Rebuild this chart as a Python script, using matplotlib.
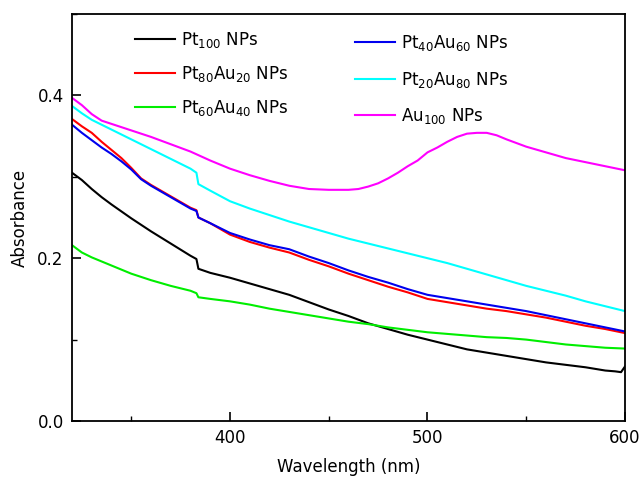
import matplotlib
matplotlib.use("Agg")
import matplotlib.pyplot as plt
from matplotlib.ticker import MultipleLocator

plt.rcParams['font.family'] = ['DejaVu Sans']
plt.rcParams['mathtext.fontset'] = 'dejavusans'
plt.rcParams['mathtext.default'] = 'regular'

# Wavelength grids (nm) and absorbance values for each sample
wl_pt100 = [320, 325, 330, 335, 340, 350, 360, 370, 380, 383, 384, 390, 400, 410, 420, 430, 440,
            450, 460, 470, 480, 490, 500, 510, 520, 530, 540, 550, 560, 570, 580, 590, 595, 598, 600]
abs_pt100 = [0.305, 0.296, 0.285, 0.275, 0.266, 0.249, 0.233, 0.218, 0.203, 0.199, 0.187, 0.182, 0.176,
             0.169, 0.162, 0.155, 0.146, 0.137, 0.129, 0.120, 0.113, 0.106, 0.100, 0.094, 0.088, 0.084,
             0.080, 0.076, 0.072, 0.069, 0.066, 0.062, 0.061, 0.060, 0.067]

wl_alloy = [320, 325, 330, 335, 340, 345, 350, 355, 360, 370, 380, 383, 384, 390, 400, 410, 420, 430,
            440, 450, 460, 470, 480, 490, 500, 510, 520, 530, 540, 550, 560, 570, 580, 590, 600]
abs_pt80au20 = [0.371, 0.362, 0.354, 0.343, 0.333, 0.323, 0.311, 0.298, 0.290, 0.276, 0.262, 0.259,
                0.250, 0.243, 0.229, 0.220, 0.213, 0.207, 0.198, 0.190, 0.181, 0.173, 0.165, 0.158,
                0.150, 0.146, 0.142, 0.138, 0.135, 0.131, 0.127, 0.122, 0.117, 0.113, 0.108]
abs_pt40au60 = [0.364, 0.354, 0.345, 0.336, 0.328, 0.319, 0.309, 0.297, 0.289, 0.275, 0.261, 0.258,
                0.250, 0.243, 0.231, 0.223, 0.216, 0.211, 0.202, 0.194, 0.185, 0.177, 0.170, 0.162,
                0.155, 0.151, 0.147, 0.143, 0.139, 0.135, 0.130, 0.125, 0.120, 0.115, 0.110]

wl_pt60au40 = [320, 325, 330, 340, 350, 360, 370, 380, 383, 384, 390, 400, 410, 420, 430, 440, 450,
               460, 470, 475, 480, 490, 500, 510, 520, 530, 540, 550, 560, 570, 580, 590, 600]
abs_pt60au40 = [0.216, 0.207, 0.201, 0.191, 0.181, 0.173, 0.166, 0.160, 0.157, 0.152, 0.150, 0.147,
                0.143, 0.138, 0.134, 0.130, 0.126, 0.122, 0.119, 0.117, 0.115, 0.112, 0.109, 0.107,
                0.105, 0.103, 0.102, 0.100, 0.097, 0.094, 0.092, 0.090, 0.089]

wl_pt20au80 = [320, 325, 330, 340, 350, 360, 370, 380, 383, 384, 390, 400, 410, 420, 430, 440, 450,
               460, 470, 480, 490, 500, 510, 520, 530, 540, 550, 560, 570, 580, 590, 600]
abs_pt20au80 = [0.387, 0.378, 0.370, 0.358, 0.346, 0.334, 0.322, 0.310, 0.305, 0.291, 0.283, 0.270,
                0.261, 0.253, 0.245, 0.238, 0.231, 0.224, 0.218, 0.212, 0.206, 0.200, 0.194, 0.187,
                0.180, 0.173, 0.166, 0.160, 0.154, 0.147, 0.141, 0.135]

wl_au100 = [320, 325, 330, 335, 340, 350, 360, 370, 380, 390, 400, 410, 420, 430, 440, 450, 460, 465,
            470, 475, 480, 485, 490, 495, 500, 505, 510, 515, 520, 525, 530, 535, 540, 550, 560, 570,
            580, 590, 600]
abs_au100 = [0.397, 0.388, 0.377, 0.369, 0.365, 0.357, 0.349, 0.340, 0.331, 0.320, 0.310, 0.302,
             0.295, 0.289, 0.285, 0.284, 0.284, 0.285, 0.288, 0.292, 0.298, 0.305, 0.313, 0.320,
             0.330, 0.336, 0.343, 0.349, 0.353, 0.354, 0.354, 0.351, 0.346, 0.337, 0.330, 0.323,
             0.318, 0.313, 0.308]

labels = ["Pt$_{100}$ NPs", "Pt$_{80}$Au$_{20}$ NPs", "Pt$_{60}$Au$_{40}$ NPs",
          "Pt$_{40}$Au$_{60}$ NPs", "Pt$_{20}$Au$_{80}$ NPs", "Au$_{100}$ NPs"]
colors = ["black", "#ff0000", "#00ee00", "#0000ee", "#00ffff", "#ff00ff"]

series = [(wl_pt100, abs_pt100), (wl_alloy, abs_pt80au20), (wl_pt60au40, abs_pt60au40),
          (wl_alloy, abs_pt40au60), (wl_pt20au80, abs_pt20au80), (wl_au100, abs_au100)]

W, H = 640, 480
fig = plt.figure(figsize=(6.4, 4.8), dpi=100)
ax = fig.add_axes([72 / W, 1 - 421 / H, (625 - 72) / W, (421 - 14) / H])

lines = []
for (x, y), lab, c in zip(series, labels, colors):
    ln, = ax.plot(x, y, color=c, lw=1.5, label=lab)
    lines.append(ln)

ax.set_xlim(320, 600)
ax.set_ylim(0, 0.5)
ax.xaxis.set_minor_locator(MultipleLocator(50))
ax.yaxis.set_minor_locator(MultipleLocator(0.1))
ax.set_xticks([400, 500, 600])
ax.set_yticks([0.0, 0.2, 0.4])
ax.set_yticklabels(["0.0", "0.2", "0.4"])
ax.tick_params(which='major', direction='in', length=6.5, width=1.2, labelsize=12, pad=6)
ax.tick_params(which='minor', direction='in', length=3.5, width=1.0)
for s in ax.spines.values():
    s.set_linewidth(1.3)

ax.set_xlabel("Wavelength (nm)", fontsize=12, labelpad=8)
ax.set_ylabel("Absorbance", fontsize=12, labelpad=6)

leg_kw = dict(loc='upper left', frameon=False, fontsize=12, handlelength=2.4,
              handletextpad=0.35, borderpad=0, borderaxespad=0,
              bbox_transform=fig.transFigure)
leg1 = ax.legend(lines[:3], labels[:3], bbox_to_anchor=(135 / W, 1 - 30 / H),
                 labelspacing=0.85, **leg_kw)
ax.add_artist(leg1)
ax.legend(lines[3:], labels[3:], bbox_to_anchor=(355 / W, 1 - 33 / H),
          labelspacing=1.0, **leg_kw)

fig.savefig("out.png", dpi=100)
